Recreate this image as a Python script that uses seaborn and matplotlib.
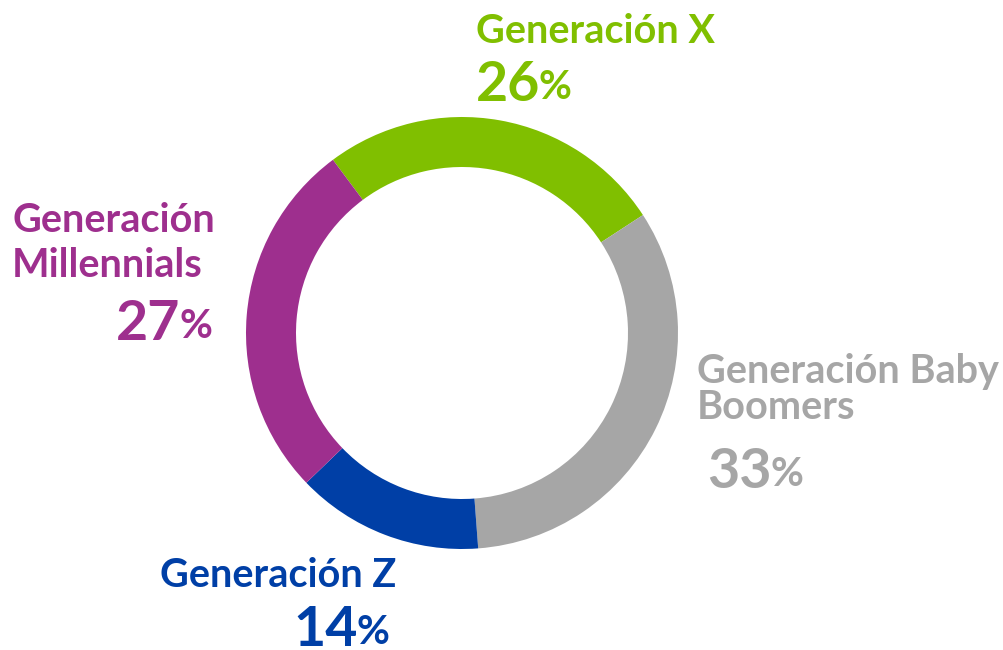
import matplotlib
matplotlib.use("Agg")
import matplotlib.pyplot as plt
import seaborn as sns

# data (clockwise from the top-left)
generations = ["Generación X", "Generación Baby\nBoomers", "Generación Z", "Generación\nMillennials"]
shares = [26, 33, 14, 27]
colors = ["#80BF00", "#A6A6A6", "#003FA6", "#9E2F8E"]

sns.set_theme(style="white")
plt.rcParams['font.family'] = ['Lato', 'DejaVu Sans']

W, H = 1004, 650
fig = plt.figure(figsize=(W / 100, H / 100), dpi=100)
ax = fig.add_axes([0, 0, 1, 1])

ax.pie(shares, colors=colors, startangle=126.7, counterclock=False,
       radius=216, center=(462, H - 333),
       wedgeprops=dict(width=50, linewidth=0))

ax.set_xlim(0, W)
ax.set_ylim(0, H)
ax.set_aspect('equal')
ax.axis('off')

LABEL_FS = 28.5
NUM_FS = 40
PCT_FS = 29


def label(x, y, text, color, ha, spacing=1.0):
    # x, y: pixel position of the last line's baseline, from the top-left
    ax.text(x, H - y, text, color=color, ha=ha, va='baseline',
            fontsize=LABEL_FS, fontweight='bold', linespacing=spacing,
            multialignment='left')


def percent(x, y, value, color, ha):
    if ha == 'left':
        t = ax.text(x, H - y, str(value), color=color, ha='left', va='baseline',
                    fontsize=NUM_FS, fontweight='bold')
        ax.annotate('%', xy=(1, 0), xycoords=t, xytext=(-1, 3),
                    textcoords='offset points', ha='left', va='bottom',
                    color=color, fontsize=PCT_FS, fontweight='bold')
    else:
        p = ax.text(x, H - y, '%', color=color, ha='right', va='baseline',
                    fontsize=PCT_FS, fontweight='bold')
        ax.annotate(str(value), xy=(0, 0), xycoords=p, xytext=(1, -3),
                    textcoords='offset points', ha='right', va='bottom',
                    color=color, fontsize=NUM_FS, fontweight='bold')


# Generación X
label(476, 43, generations[0], colors[0], 'left')
percent(476, 101, shares[0], colors[0], 'left')

# Baby Boomers
label(697, 419, generations[1], colors[1], 'left', spacing=0.98)
percent(707, 488, shares[1], colors[1], 'left')

# Generación Z
label(160, 587, generations[2], colors[2], 'left')
percent(389, 644, shares[2], colors[2], 'right')

# Millennials
label(215, 277, generations[3], colors[3], 'right', spacing=1.28)
percent(212, 338, shares[3], colors[3], 'right')

fig.savefig("out.png", dpi=100)
